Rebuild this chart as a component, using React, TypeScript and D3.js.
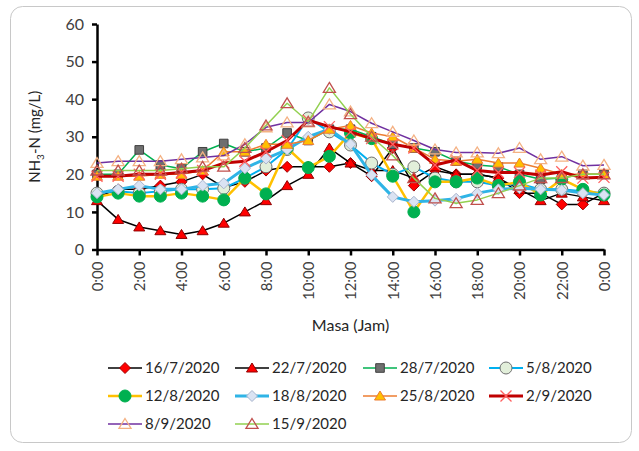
import React, { useEffect, useRef } from 'react';
import * as d3 from 'd3';

// hours 0:00 .. next day 0:00
const hours = [0, 1, 2, 3, 4, 5, 6, 7, 8, 9, 10, 11, 12, 13, 14, 15, 16, 17, 18, 19, 20, 21, 22, 23, 24];
const xTickHours = [0, 2, 4, 6, 8, 10, 12, 14, 16, 18, 20, 22, 24];
const xTickLabels = ['0:00', '2:00', '4:00', '6:00', '8:00', '10:00', '12:00', '14:00', '16:00', '18:00', '20:00', '22:00', '0:00'];
const yTicks = [0, 10, 20, 30, 40, 50, 60];

const seriesNames = ['16/7/2020', '22/7/2020', '28/7/2020', '5/8/2020', '12/8/2020', '18/8/2020', '25/8/2020', '2/9/2020', '8/9/2020', '15/9/2020'];

const s16_7 = [14, 16, 16, 17, 18, 20, 16.5, 18, 21, 22, 22, 22, 23, 19.5, 27, 17, 21, 20, 20, 19, 15, 15, 12, 12, 15];
const s22_7 = [13, 8, 6, 5, 4, 5, 7, 10, 13, 17, 20, 27, 23, 21, 21, 19, 22, 20, 20, 19, 16, 13, 15, 14, 13];
const s28_7 = [20, 20, 26.5, 22.5, 21.5, 26, 28.2, 26, 27, 31, 29, 32, 32, 30, 28, 27, 26, 23.5, 22.5, 22, 20, 18.7, 19, 20, 20];
const s5_8 = [15, 15.5, 15, 15.5, 16, 16, 16.3, 19, 22, 26.6, 35, 31.3, 27.8, 23, 20, 22, 19, 18, 18, 17, 17.5, 16, 16, 15.5, 15];
const s12_8 = [14, 15, 14.2, 14.2, 15, 14.2, 13.2, 19, 14.8, 27, 21.8, 24.8, 31, 29.5, 19.5, 10, 18, 18, 19, 17, 18, 14.5, 18.7, 16, 14.5];
const s18_8 = [15, 16, 17, 16, 16, 17, 17.6, 21.6, 24.2, 26.6, 30, 32, 28, 19.8, 14, 12.7, 13, 13.5, 15, 16, 16.3, 16, 15.8, 15, 14.5];
const s25_8 = [19.5, 19.5, 19.5, 20, 20, 21, 26, 26, 28, 28, 29, 32, 33, 31, 30, 27, 24, 23.5, 24, 23, 23, 21.6, 20, 20, 20];
const s2_9 = [19.5, 19.5, 20, 20, 20.5, 21, 23, 23.5, 26, 29, 34.4, 32.7, 31.3, 29.5, 28, 27, 22.5, 23.8, 21, 20.5, 20.5, 19.8, 20.7, 19, 19.2];
const s8_9 = [23, 23.5, 23.5, 23.5, 24, 24.5, 25, 28, 32.5, 33.8, 33.8, 38.6, 36.7, 33.6, 31.3, 29, 26.6, 25.8, 25.8, 25.6, 27, 24, 24.7, 22.3, 22.5];
const s15_9 = [21, 21, 21, 21, 21.5, 22, 22, 27, 33, 38.9, 34, 43, 36, 30, 25, 19, 13.6, 12.3, 13.2, 15, 17, 19, 19, 20, 20];

const seriesValues = [s16_7, s22_7, s28_7, s5_8, s12_8, s18_8, s25_8, s2_9, s8_9, s15_9];

const diamond = (r) => `M0,${-r}L${r},0L0,${r}L${-r},0Z`;
const triangle = (r) => `M0,${-r}L${r * 1.1},${r * 0.8}L${-r * 1.1},${r * 0.8}Z`;
const square = (r) => `M${-r},${-r}H${r}V${r}H${-r}Z`;
const circle = (r) => `M${r},0A${r},${r} 0 1,1 ${-r},0A${r},${r} 0 1,1 ${r},0Z`;
const cross = (r) => `M${-r},${-r}L${r},${r}M${-r},${r}L${r},${-r}`;

const styles = [
  { line: '#000000', lw: 1.5, shape: diamond(5.5), fill: '#ff0000', stroke: '#a00000' },
  { line: '#000000', lw: 1.5, shape: triangle(5), fill: '#ff0000', stroke: '#900000' },
  { line: '#00b050', lw: 1.5, shape: square(4.3), fill: '#6f6f6f', stroke: '#404040' },
  { line: '#00b0f0', lw: 2, shape: circle(6), fill: '#e2efda', stroke: '#6f6f6f' },
  { line: '#ffc000', lw: 2.5, shape: circle(6), fill: '#00b050', stroke: '#00b050' },
  { line: '#2fb4e6', lw: 3, shape: diamond(5.5), fill: '#dae3f3', stroke: '#a9b4cc' },
  { line: '#ed7d31', lw: 1.5, shape: triangle(5), fill: '#ffc000', stroke: '#ed7d31' },
  { line: '#c00000', lw: 3, shape: cross(5.5), fill: 'none', stroke: '#ff6060' },
  { line: '#7030a0', lw: 1.5, shape: triangle(5.5), fill: 'none', stroke: '#f4b183' },
  { line: '#92d050', lw: 1.5, shape: triangle(5.5), fill: 'none', stroke: '#c0504d' },
];

const W = 639;
const H = 451;
const font = 'Lato, "Open Sans", sans-serif';

const App = () => {
  const ref = useRef(null);

  useEffect(() => {
    const svg = d3.select(ref.current);
    svg.selectAll('*').remove();

    const x = d3.scaleLinear().domain([0, 24]).range([97, 604]);
    const y = d3.scaleLinear().domain([0, 60]).range([249.5, 24]);

    svg.append('rect')
      .attr('x', 10.5).attr('y', 6.5)
      .attr('width', 621).attr('height', 436)
      .attr('rx', 12)
      .attr('fill', '#fff')
      .attr('stroke', '#c8c8c8');

    // y axis
    const yAxis = svg.append('g')
      .attr('transform', `translate(${x(0)},0)`)
      .call(d3.axisLeft(y).tickValues(yTicks).tickSize(5).tickSizeOuter(0).tickPadding(8));
    yAxis.select('.domain').attr('stroke', '#000').attr('stroke-width', 2.5);
    yAxis.selectAll('.tick line').attr('stroke', '#000').attr('stroke-width', 2.5);
    yAxis.selectAll('.tick text')
      .attr('fill', '#404040')
      .style('font-family', font)
      .style('font-size', '16px');

    // x axis
    const xAxis = svg.append('g')
      .attr('transform', `translate(0,${y(0)})`)
      .call(d3.axisBottom(x).tickValues(xTickHours).tickSize(6).tickSizeOuter(0)
        .tickFormat((d, i) => xTickLabels[i]));
    xAxis.select('.domain').attr('stroke', '#000').attr('stroke-width', 2.5);
    xAxis.selectAll('.tick line').attr('stroke', '#000').attr('stroke-width', 2.5);
    xAxis.selectAll('.tick text')
      .attr('fill', '#404040')
      .attr('transform', 'rotate(-90)')
      .attr('x', -12)
      .attr('y', 0)
      .attr('dy', '0.35em')
      .attr('text-anchor', 'end')
      .style('font-family', font)
      .style('font-size', '15px');

    // axis titles
    svg.append('text')
      .attr('x', (x(0) + x(24)) / 2)
      .attr('y', 331)
      .attr('text-anchor', 'middle')
      .attr('fill', '#262626')
      .style('font-family', font)
      .style('font-size', '16px')
      .text('Masa (Jam)');

    const yl = svg.append('text')
      .attr('transform', `translate(40,${(y(0) + y(60)) / 2}) rotate(-90)`)
      .attr('text-anchor', 'middle')
      .attr('fill', '#262626')
      .style('font-family', font)
      .style('font-size', '15px');
    yl.append('tspan').text('NH');
    yl.append('tspan').attr('dy', 4).style('font-size', '10px').text('3');
    yl.append('tspan').attr('dy', -4).text('-N (mg/L)');

    const line = d3.line().x((d, i) => x(hours[i])).y(d => y(d));

    seriesValues.forEach((vals, k) => {
      const st = styles[k];
      const g = svg.append('g');
      g.append('path')
        .attr('d', line(vals))
        .attr('fill', 'none')
        .attr('stroke', st.line)
        .attr('stroke-width', st.lw)
        .attr('stroke-linejoin', 'round');
      g.selectAll('path.m')
        .data(vals)
        .join('path')
        .attr('class', 'm')
        .attr('transform', (d, i) => `translate(${x(hours[i])},${y(d)})`)
        .attr('d', st.shape)
        .attr('fill', st.fill)
        .attr('stroke', st.stroke)
        .attr('stroke-width', st.fill === 'none' ? 1.3 : 1);
    });

    // legend
    const colX = [108, 235, 363, 489];
    const rowY = [368, 396, 424];
    seriesNames.forEach((name, k) => {
      const st = styles[k];
      const lx = colX[k % 4];
      const ly = rowY[Math.floor(k / 4)];
      const g = svg.append('g').attr('transform', `translate(${lx},${ly})`);
      g.append('line')
        .attr('x1', 0).attr('x2', 34)
        .attr('stroke', st.line)
        .attr('stroke-width', st.lw);
      g.append('path')
        .attr('transform', 'translate(17,0)')
        .attr('d', st.shape)
        .attr('fill', st.fill)
        .attr('stroke', st.stroke)
        .attr('stroke-width', st.fill === 'none' ? 1.3 : 1);
      g.append('text')
        .attr('x', 37)
        .attr('dy', '0.35em')
        .attr('fill', '#262626')
        .style('font-family', font)
        .style('font-size', '15px')
        .text(name);
    });
  }, []);

  return (
    <svg
      ref={ref}
      width={W}
      height={H}
      style={{ position: 'absolute', left: 0, top: 0, background: '#fff' }}
    />
  );
};

export default App;
